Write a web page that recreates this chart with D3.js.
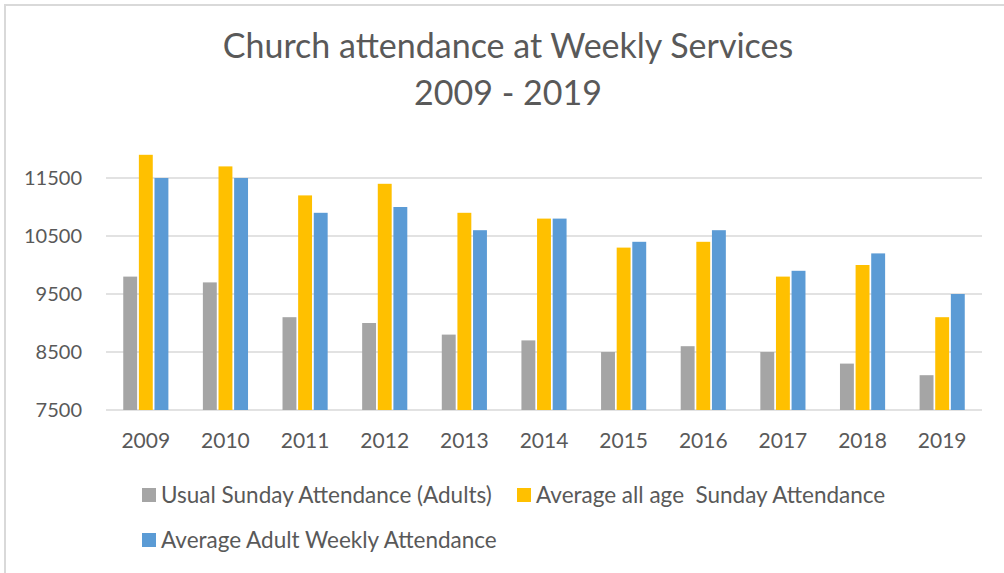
<!DOCTYPE html>
<html>
<head>
<meta charset="utf-8">
<script src="https://cdn.jsdelivr.net/npm/d3@7"></script>
<style>
  html, body { margin: 0; padding: 0; background: #fff; }
  svg { display: block; }
  text { font-family: Lato, "Open Sans", sans-serif; fill: #595959; }
</style>
</head>
<body>
<svg id="chart" width="1004" height="573"></svg>
<script>
const years = ["2009","2010","2011","2012","2013","2014","2015","2016","2017","2018","2019"];
const usualSundayAdults = [9800, 9700, 9100, 9000, 8800, 8700, 8500, 8600, 8500, 8300, 8100];
const averageAllAgeSunday = [11900, 11700, 11200, 11400, 10900, 10800, 10300, 10400, 9800, 10000, 9100];
const averageAdultWeekly = [11500, 11500, 10900, 11000, 10600, 10800, 10400, 10600, 9900, 10200, 9500];
const seriesNames = ["Usual Sunday Attendance (Adults)", "Average all age  Sunday Attendance", "Average Adult Weekly Attendance"];
const seriesColors = ["#a5a5a5", "#ffc000", "#5b9bd5"];
const yTicks = [7500, 8500, 9500, 10500, 11500];
const titleLines = ["Church attendance at Weekly Services", "2009 - 2019"];

const series = [usualSundayAdults, averageAllAgeSunday, averageAdultWeekly];
const svg = d3.select("#chart");

// chart border
svg.append("rect").attr("x", 5).attr("y", 5).attr("width", 1010).attr("height", 580)
  .attr("fill", "none").attr("stroke", "#d9d9d9").attr("stroke-width", 2);

const plot = { left: 106, right: 982, top: 149, bottom: 410 };

const x = d3.scaleBand().domain(years).range([plot.left, plot.right]).paddingInner(0).paddingOuter(0);
const groupWidth = x.bandwidth() * 0.61;
const xs = d3.scaleBand().domain(d3.range(series.length)).range([0, groupWidth]).padding(0.11);
const y = d3.scaleLinear().domain([7500, 12000]).range([plot.bottom, plot.top]);

// gridlines
svg.append("g").selectAll("line").data(yTicks).join("line")
  .attr("x1", plot.left).attr("x2", plot.right)
  .attr("y1", d => y(d)).attr("y2", d => y(d))
  .attr("stroke", "#d9d9d9").attr("stroke-width", 1.5);

// y labels
svg.append("g").selectAll("text").data(yTicks).join("text")
  .attr("x", 82).attr("y", d => y(d)).attr("dy", "0.36em")
  .attr("text-anchor", "end").attr("font-size", 20)
  .text(d => d);

// bars
series.forEach((vals, si) => {
  svg.append("g").selectAll("rect").data(vals).join("rect")
    .attr("x", (d, i) => x(years[i]) + (x.bandwidth() - groupWidth) / 2 + xs(si))
    .attr("width", xs.bandwidth())
    .attr("y", d => y(d))
    .attr("height", d => y(7500) - y(d))
    .attr("fill", seriesColors[si]);
});

// x labels
svg.append("g").selectAll("text").data(years).join("text")
  .attr("x", d => x(d) + x.bandwidth() / 2).attr("y", 448)
  .attr("text-anchor", "middle").attr("font-size", 21)
  .text(d => d);

// title
svg.append("g").selectAll("text").data(titleLines).join("text")
  .attr("x", 508).attr("y", (d, i) => 58 + i * 47)
  .attr("text-anchor", "middle").attr("font-size", 34)
  .text(d => d);

// legend
const legendItems = [
  { name: seriesNames[0], color: seriesColors[0], x: 142, y: 495 },
  { name: seriesNames[1], color: seriesColors[1], x: 517, y: 495 },
  { name: seriesNames[2], color: seriesColors[2], x: 142, y: 540 }
];
const lg = svg.append("g").selectAll("g").data(legendItems).join("g")
  .attr("transform", d => `translate(${d.x},${d.y})`);
lg.append("rect").attr("x", 0).attr("y", -7).attr("width", 14).attr("height", 14).attr("fill", d => d.color);
lg.append("text").attr("x", 19).attr("y", 0).attr("dy", "0.36em").attr("font-size", 22.5)
  .style("white-space", "pre").attr("xml:space", "preserve")
  .text(d => d.name);
</script>
</body>
</html>
